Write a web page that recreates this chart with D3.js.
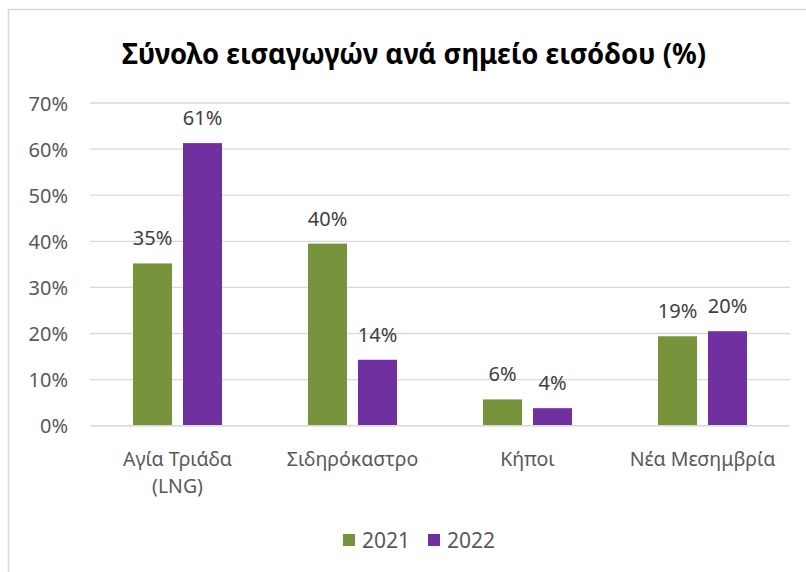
<!DOCTYPE html>
<html><head><meta charset="utf-8">
<script src="https://cdn.jsdelivr.net/npm/d3@7"></script>
<style>
html,body{margin:0;padding:0;background:#fff;}
svg{display:block;font-family:"Noto Sans","Open Sans",sans-serif;}
</style></head>
<body><svg id="c" width="806" height="572"></svg>
<script>
const title = "Σύνολο εισαγωγών ανά σημείο εισόδου (%)";
const categories = [["Αγία Τριάδα","(LNG)"],["Σιδηρόκαστρο"],["Κήποι"],["Νέα Μεσημβρία"]];
const seriesNames = ["2021","2022"];
const values2021 = [0.352, 0.395, 0.057, 0.194];
const values2022 = [0.613, 0.143, 0.038, 0.205];
const labels2021 = ["35%","40%","6%","19%"];
const labels2022 = ["61%","14%","4%","20%"];
const yTicks = [0,0.1,0.2,0.3,0.4,0.5,0.6,0.7];
const colors = ["#77933C","#7030A0"];

const svg = d3.select("#c");
svg.append("rect").attr("x",0).attr("y",0).attr("width",806).attr("height",572).attr("fill","#fff");
svg.append("rect").attr("x",8.5).attr("y",9.5).attr("width",820).attr("height",600)
  .attr("fill","none").attr("stroke","#d9d9d9").attr("stroke-width",1.5);

const catKeys = categories.map(c=>c.join(" "));
const y = d3.scaleLinear().domain([0,0.7]).range([425.7,103]);
const x0 = d3.scaleBand().domain(catKeys).range([90,790]).paddingInner(0.4914).paddingOuter(0.2457);
const x1 = d3.scaleBand().domain(seriesNames).range([0,x0.bandwidth()]).paddingInner(0.22);

// gridlines
svg.append("g").selectAll("line").data(yTicks).join("line")
  .attr("x1",90).attr("x2",790).attr("y1",d=>y(d)).attr("y2",d=>y(d))
  .attr("stroke","#d9d9d9").attr("stroke-width",1.3);

// y axis labels
const yAxis = d3.axisLeft(y).tickValues(yTicks).tickFormat(d3.format(".0%")).tickSize(0).tickPadding(0);
const ga = svg.append("g").attr("transform","translate(68,0)").call(yAxis);
ga.select(".domain").remove();
ga.selectAll("text").attr("font-size",20).attr("fill","#595959").attr("font-family","Noto Sans").attr("dy","0.35em");

const data = catKeys.map((k,i)=>({k, vals:[
  {s:"2021", v:values2021[i], l:labels2021[i], c:colors[0]},
  {s:"2022", v:values2022[i], l:labels2022[i], c:colors[1]}]}));

const g = svg.append("g").selectAll("g").data(data).join("g")
  .attr("transform",d=>`translate(${x0(d.k)},0)`);
g.selectAll("rect").data(d=>d.vals).join("rect")
  .attr("x",d=>x1(d.s)).attr("width",x1.bandwidth())
  .attr("y",d=>y(d.v)).attr("height",d=>y(0)-y(d.v)).attr("fill",d=>d.c);
g.selectAll("text").data(d=>d.vals).join("text")
  .attr("x",d=>x1(d.s)+x1.bandwidth()/2).attr("y",d=>y(d.v)-18)
  .attr("text-anchor","middle").attr("font-size",20).attr("fill","#404040").text(d=>d.l);

// x axis line
svg.append("line").attr("x1",90).attr("x2",790).attr("y1",y(0)).attr("y2",y(0))
  .attr("stroke","#d9d9d9").attr("stroke-width",1.5);

// x labels
const xl = svg.append("g").selectAll("text").data(categories).join("text")
  .attr("x",(d,i)=>x0(catKeys[i])+x0.bandwidth()/2).attr("y",466)
  .attr("text-anchor","middle").attr("font-size",19.5).attr("fill","#595959");
xl.selectAll("tspan").data(d=>d).join("tspan")
  .attr("x",function(){return d3.select(this.parentNode).attr("x");})
  .attr("dy",(d,i)=>i===0?0:26.7).text(d=>d);

// title
svg.append("text").attr("x",414).attr("y",64).attr("text-anchor","middle")
  .attr("font-size",29).attr("font-weight","bold").attr("fill","#000")
  .attr("textLength",584).attr("lengthAdjust","spacingAndGlyphs").text(title);

// legend
const legX = [343,428];
const lg = svg.append("g").selectAll("g").data(seriesNames).join("g")
  .attr("transform",(d,i)=>`translate(${legX[i]},0)`);
lg.append("rect").attr("x",0).attr("y",534).attr("width",12).attr("height",12).attr("fill",(d,i)=>colors[i]);
lg.append("text").attr("x",19).attr("y",548).attr("font-size",21).attr("fill","#595959").text(d=>d);
</script></body></html>
